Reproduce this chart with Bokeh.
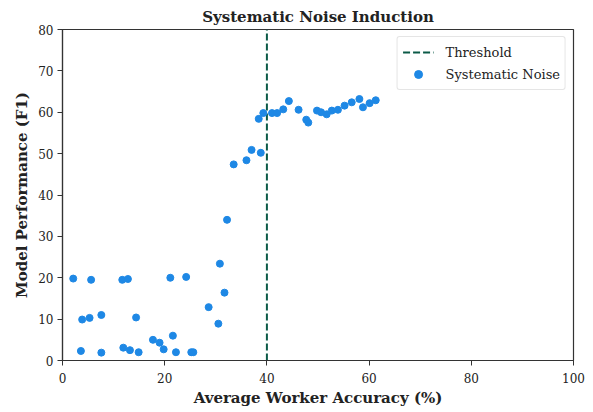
from bokeh.plotting import figure
from bokeh.models import Range1d, FixedTicker, Legend, LegendItem
from bokeh.embed import file_html
from bokeh.resources import INLINE

accuracy = [2.1, 5.6, 11.7, 12.8, 21.1, 24.2, 30.8, 31.7, 28.6, 30.5,
            3.85, 5.3, 7.6, 14.4, 17.7, 19.0, 21.6, 19.8, 3.6, 7.6,
            11.9, 13.2, 14.9, 22.2, 25.2, 25.6,
            32.2, 33.5, 36.0, 37.0, 38.8, 38.4, 39.3, 41.0, 42.0, 43.2,
            44.3, 46.2, 47.7, 48.1, 49.8, 50.6, 51.7, 52.7, 53.9, 55.2,
            56.6, 58.1, 58.8, 60.1, 61.3]
performance = [19.8, 19.5, 19.5, 19.7, 20.0, 20.2, 23.4, 16.4, 12.9, 8.9,
               9.9, 10.3, 11.0, 10.4, 5.0, 4.3, 6.0, 2.7, 2.3, 1.9,
               3.1, 2.5, 2.0, 2.0, 2.0, 2.0,
               34.0, 47.4, 48.4, 50.9, 50.2, 58.4, 59.8, 59.8, 59.8, 60.7,
               62.7, 60.6, 58.2, 57.5, 60.4, 60.0, 59.5, 60.4, 60.6, 61.6,
               62.4, 63.2, 61.2, 62.2, 62.9]
threshold = 40
x_limits = [0, 100]
y_limits = [0, 80]
x_ticks = [0, 20, 40, 60, 80, 100]
y_ticks = [0, 10, 20, 30, 40, 50, 60, 70, 80]

FONT = "DejaVu Serif"
TXT = "#222222"
p = figure(width=593, height=412, output_backend="svg", toolbar_location=None,
           x_range=Range1d(*x_limits), y_range=Range1d(*y_limits),
           min_border_left=62, min_border_right=20, min_border_top=29,
           min_border_bottom=52, title="Systematic Noise Induction")
p.title.align = "center"
p.title.text_font = FONT
p.title.text_font_size = "15px"
p.title.text_font_style = "bold"
p.title.text_color = TXT
p.title.standoff = 8

p.xgrid.visible = False
p.ygrid.visible = False
p.outline_line_color = "#333333"
p.outline_line_width = 1.2

for ax, ticks, lab in ((p.xaxis[0], x_ticks, "Average Worker Accuracy (%)"),
                       (p.yaxis[0], y_ticks, "Model Performance (F1)")):
    ax.ticker = FixedTicker(ticks=ticks)
    ax.minor_tick_line_color = None
    ax.major_tick_in = 0
    ax.major_tick_out = 5
    ax.axis_line_color = "#333333"
    ax.axis_line_width = 1.2
    ax.major_tick_line_color = "#333333"
    ax.major_label_text_font = FONT
    ax.major_label_text_font_size = "12px"
    ax.major_label_text_color = TXT
    ax.axis_label = lab
    ax.axis_label_text_font = FONT
    ax.axis_label_text_font_size = "15px"
    ax.axis_label_text_font_style = "bold"
    ax.axis_label_text_color = TXT
p.xaxis.major_label_standoff = 7
p.yaxis.major_label_standoff = 4
p.xaxis.axis_label_standoff = 3
p.yaxis.axis_label_standoff = 4

thr = p.line(x=[threshold, threshold], y=y_limits, line_color="#0b5a47",
             line_width=2, line_dash="7 3")
pts = p.scatter(x=accuracy, y=performance, size=7, fill_color="#1e88e5",
                line_color="#1e88e5")

legend = Legend(items=[LegendItem(label="Threshold", renderers=[thr]),
                       LegendItem(label="Systematic Noise", renderers=[pts])],
                location="top_right")
legend.label_text_font = FONT
legend.label_text_font_size = "13px"
legend.label_text_color = TXT
legend.border_line_color = "#cccccc"
legend.border_radius = 3
legend.glyph_width = 31
legend.glyph_height = 20
legend.spacing = 2
legend.padding = 5
legend.margin = 7
legend.label_standoff = 12
p.add_layout(legend)

open("out.html", "w").write(file_html(p, INLINE))
